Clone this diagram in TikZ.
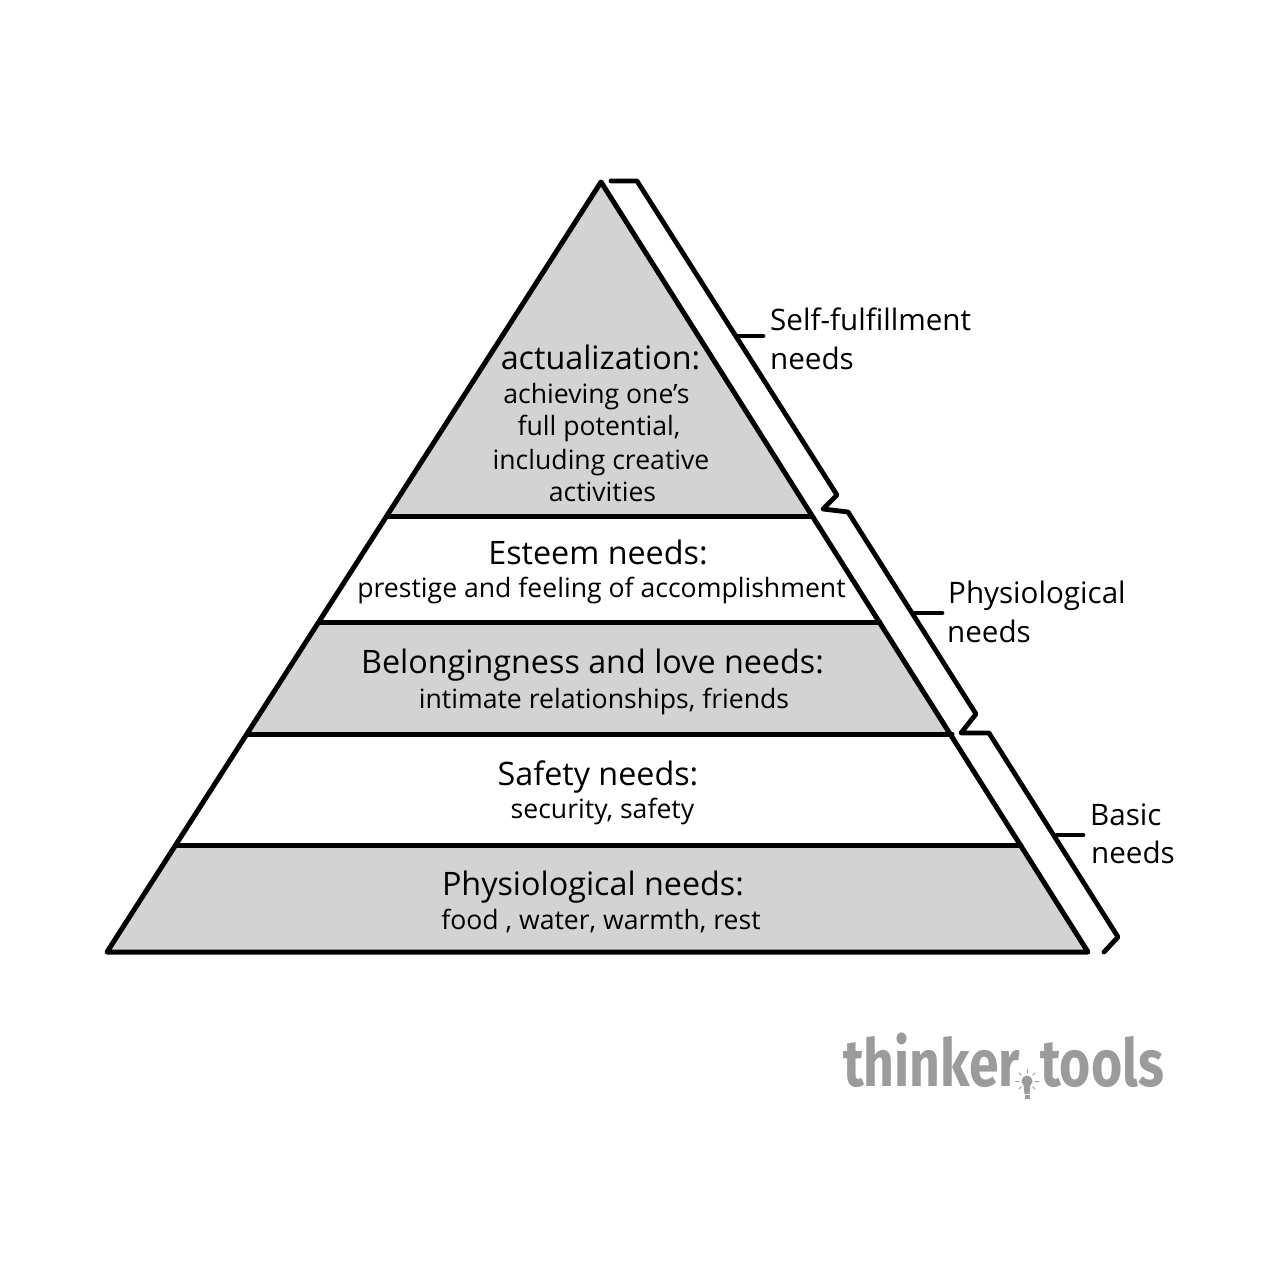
\documentclass[tikz,border=0pt]{standalone}
\usepackage{fontspec}
\setmainfont{Open Sans}
\newfontfamily\logofont{Fira Sans}
\definecolor{bandgray}{HTML}{D3D3D3}
\definecolor{logogray}{HTML}{9B9B9B}
\begin{document}
\begin{tikzpicture}
  [x=1pt,y=-1pt,line join=round,line cap=round]
  \tikzstyle{outline} = [draw=black,line width=5pt]
  \tikzstyle{bracket} = [draw=black,line width=4.8pt]
  \tikzstyle{title} = [anchor=base,inner sep=0pt,font=\fontsize{32.3}{32}\selectfont]
  \tikzstyle{detail} = [anchor=base,inner sep=0pt,font=\fontsize{26.6}{27}\selectfont]
  \tikzstyle{side} = [anchor=base west,inner sep=0pt,font=\fontsize{29.6}{30}\selectfont]
  \tikzstyle{logo} = [anchor=base west,inner sep=0pt,text=logogray,xscale=.81,font=\logofont\bfseries\fontsize{66}{66}\selectfont]
  \useasboundingbox (0,0) rectangle (1280,1280);
  % corners of the pyramid
  \coordinate (top) at (601,182);
  \coordinate (bl) at (107,952);
  \coordinate (br) at (1088,952);
  % band edges, left and right
  \coordinate (a1) at (387,516);  \coordinate (a2) at (812,516);
  \coordinate (b1) at (319,622);  \coordinate (b2) at (880,622);
  \coordinate (c1) at (247,734);  \coordinate (c2) at (952,734);
  \coordinate (d1) at (177,845);  \coordinate (d2) at (1021,845);
  \fill[bandgray] (top) -- (a2) -- (a1) -- cycle;
  \fill[bandgray] (b1) -- (b2) -- (c2) -- (c1) -- cycle;
  \fill[bandgray] (d1) -- (d2) -- (br) -- (bl) -- cycle;
  \draw[outline] (top) -- (br) -- (bl) -- cycle;
  \foreach \source /\dest in {a1/a2,b1/b2,c1/c2,d1/d2}
   \draw[outline] (\source) -- (\dest);
  % brackets on the right
  \draw[bracket] (611,181) -- (637,181) -- (837,495) -- (823,509) -- (848,512)
    -- (976,714) -- (961,733) -- (989,733) -- (1118,937) -- (1104,952);
  \coordinate (t1) at (738,336);  \coordinate (u1) at (763,336);
  \coordinate (t2) at (915,613);  \coordinate (u2) at (942,613);
  \coordinate (t3) at (1057,835); \coordinate (u3) at (1083,835);
  \foreach \source /\dest in {t1/u1,t2/u2,t3/u3}
   \draw[bracket] (\source) -- (\dest);
  % text inside the bands
  \node[title] (act) at (600.5,369) {actualization:};
  \node[detail] (act1) at (596.5,403) {achieving one’s};
  \node[detail] (act2) at (599,435) {full potential,};
  \node[detail] (act3) at (601,469) {including creative};
  \node[detail] (act4) at (602.5,501) {activities};
  \node[title] (est) at (598,564) {Esteem needs:};
  \node[detail] (est1) at (601.5,597) {prestige and feeling of accomplishment};
  \node[title] (bel) at (592.5,673) {Belongingness and love needs:};
  \node[detail] (bel1) at (604,708) {intimate relationships, friends};
  \node[title] (saf) at (598,785) {Safety needs:};
  \node[detail] (saf1) at (602.5,818) {security, safety};
  \node[title] (phy) at (593,895) {Physiological needs:};
  \node[detail] (phy1) at (601,929) {food , water, warmth, rest};
  % bracket labels
  \node[side] (s1) at (770,330) {Self-fulfillment};
  \node[side] (s2) at (770,369) {needs};
  \node[side] (p1) at (948,603) {Physiological};
  \node[side] (p2) at (947,642) {needs};
  \node[side] (q1) at (1090,825) {Basic};
  \node[side] (q2) at (1091,863) {needs};
  % logo
  \node[logo] (think) at (843,1086) {thinker};
  \node[logo] (tools) at (1040,1086) {tools};
  \fill[logogray] (1027,1081) circle (5.5);
  \fill[logogray] (1023.5,1084) -- (1030.5,1084) -- (1029.5,1094) -- (1024.5,1094) -- cycle;
  \fill[logogray] (1024.5,1095) rectangle (1029.5,1098.5);
  \foreach \a in {0,45,135,180,225,270,315}
   \draw[logogray,line width=1pt] (1027,1081) ++(\a:8) -- ++(\a:3.5);
\end{tikzpicture}
\end{document}
